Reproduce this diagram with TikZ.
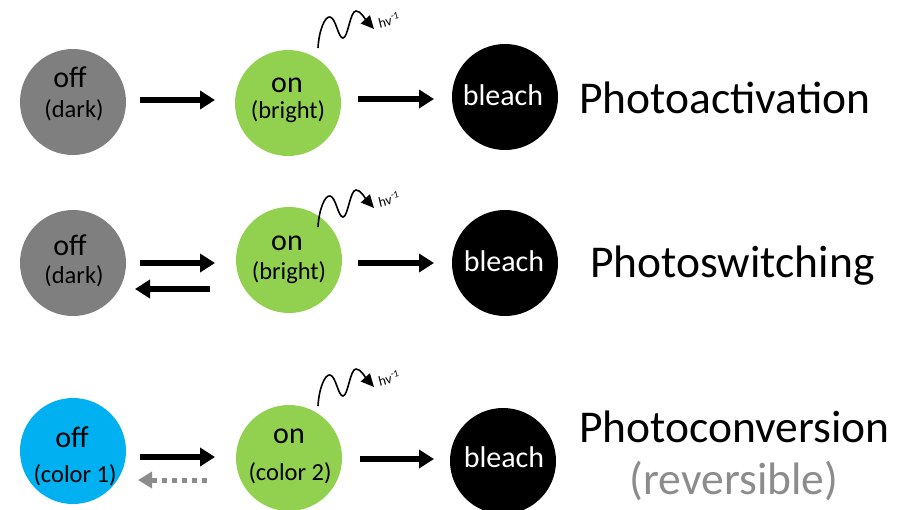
\documentclass[tikz,border=0pt]{standalone}
\usepackage{fontspec}
\setmainfont{Carlito}
\usetikzlibrary{arrows.meta}
\definecolor{offgray}{HTML}{7F7F7F}
\definecolor{ongreen}{HTML}{92D050}
\definecolor{offblue}{HTML}{00B0F0}
\definecolor{revgray}{HTML}{8C8C8C}
\begin{document}
\begin{tikzpicture}[x=1pt,y=-1pt,
  state/.style={circle,minimum size=106pt,inner sep=0pt},
  bigtxt/.style={font=\fontsize{30}{34}\selectfont,anchor=base,inner sep=0pt},
  smalltxt/.style={font=\fontsize{24.5}{28}\selectfont,anchor=base,inner sep=0pt},
  rowlabel/.style={font=\fontsize{45.5}{50}\selectfont,anchor=base west,inner sep=0pt},
  fat/.style={line width=6pt,-{Triangle[length=15pt,width=18pt]}},
  dashfat/.style={line width=5pt,revgray,dash pattern=on 5pt off 5pt,-{Triangle[length=14pt,width=16pt]}},
  photon/.pic={
    \draw[line width=1.6pt,-{Triangle[length=13pt,width=12pt]}]
      (318,48) .. controls (319,30) and (325,16) .. (330,17)
      .. controls (336,18) and (338,38) .. (343,38)
      .. controls (348,38) and (350,11) .. (356,11)
      .. controls (361,11) and (365,19) .. (374,29);
    \node[font=\fontsize{14}{16}\selectfont,rotate=14,inner sep=0pt] at (389,20) {hv\textsuperscript{-1}};
  }
]
\useasboundingbox (0,0) rectangle (902,509);

% Row 1
\node[state,fill=offgray] (off1) at (73,102) {};
\node[bigtxt] (off1a) at (70,87) {off};
\node[smalltxt] (off1b) at (74,117) {(dark)};
\node[state,fill=ongreen] (on1) at (288,103) {};
\node[bigtxt] (on1a) at (287,92) {on};
\node[smalltxt] (on1b) at (288,118) {(bright)};
\node[state,fill=black] (bl1) at (505,97) {};
\node[bigtxt,text=white] (bl1a) at (503,105) {bleach};
\node[rowlabel] (lab1) at (579,113.5) {Photoactivation};
\pic at (0,0) {photon};
\coordinate (r1a) at (140,100); \coordinate (r1b) at (215,100);
\coordinate (r1c) at (358,99); \coordinate (r1d) at (434,99);
\draw[fat] (r1a) -- (r1b);
\draw[fat] (r1c) -- (r1d);

% Row 2
\node[state,fill=offgray] (off2) at (73,263) {};
\node[bigtxt] (off2a) at (70,255) {off};
\node[smalltxt] (off2b) at (74,283) {(dark)};
\node[state,fill=ongreen] (on2) at (289,260) {};
\node[bigtxt] (on2a) at (287,250) {on};
\node[smalltxt] (on2b) at (289,279) {(bright)};
\node[state,fill=black] (bl2) at (505,263) {};
\node[bigtxt,text=white] (bl2a) at (504,271) {bleach};
\node[rowlabel] (lab2) at (590,277) {Photoswitching};
\pic at (0,179) {photon};
\coordinate (r2a) at (140,263); \coordinate (r2b) at (215,263);
\coordinate (r2e) at (210,289); \coordinate (r2f) at (135,289);
\coordinate (r2c) at (358,263); \coordinate (r2d) at (434,263);
\draw[fat] (r2a) -- (r2b);
\draw[fat] (r2e) -- (r2f);
\draw[fat] (r2c) -- (r2d);

% Row 3
\node[state,fill=offblue] (off3) at (73,451) {};
\node[bigtxt] (off3a) at (72,447) {off};
\node[smalltxt] (off3b) at (75,482) {(color 1)};
\node[state,fill=ongreen] (on3) at (289,458) {};
\node[bigtxt] (on3a) at (289,443) {on};
\node[smalltxt] (on3b) at (290,480) {(color 2)};
\node[state,fill=black] (bl3) at (503,461) {};
\node[bigtxt,text=white] (bl3a) at (504,467) {bleach};
\node[rowlabel] (lab3) at (579,442) {Photoconversion};
\node[font=\fontsize{45.5}{50}\selectfont,anchor=base,inner sep=0pt,text=revgray] (lab3b) at (734,494) {(reversible)};
\pic at (0,358) {photon};
\coordinate (r3a) at (140,457); \coordinate (r3b) at (215,457);
\coordinate (r3e) at (207,480); \coordinate (r3f) at (138,480);
\coordinate (r3c) at (360,459); \coordinate (r3d) at (434,459);
\draw[fat] (r3a) -- (r3b);
\draw[dashfat] (r3e) -- (r3f);
\draw[fat] (r3c) -- (r3d);
\end{tikzpicture}
\end{document}
